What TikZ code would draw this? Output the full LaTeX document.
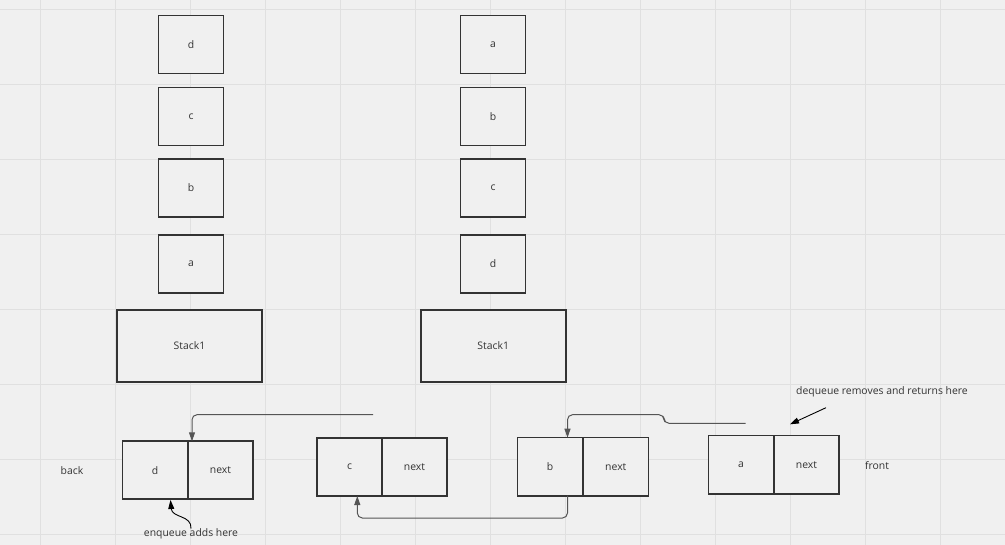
\documentclass[tikz,border=0pt]{standalone}
\usepackage{fontspec}
\setmainfont{Open Sans}
\usetikzlibrary{arrows.meta}
\definecolor{bg}{HTML}{F0F0F0}
\definecolor{gridc}{HTML}{E0E0E0}
\definecolor{ink}{HTML}{333333}
\definecolor{wire}{HTML}{555555}
\tikzset{
  box/.style={draw=ink, line width=1.6pt, fill=bg, inner sep=0pt, text=ink,
    font=\fontsize{10.4}{12}\selectfont, minimum width=65pt, minimum height=58pt},
  bigbox/.style={box, minimum width=145pt, minimum height=72pt},
  lbl/.style={text=ink, inner sep=0pt, font=\fontsize{10.4}{12}\selectfont},
  wirel/.style={draw=wire, line width=1pt, rounded corners=5pt},
  tip/.style={-{Stealth[length=9pt,width=6pt,inset=0pt]}},
}
\begin{document}
\begin{tikzpicture}[x=1pt,y=-1pt]
\useasboundingbox (0,0) rectangle (1005,545);
\fill[bg] (0,0) rectangle (1005,545);
\foreach \i in {0,...,12} \draw[gridc, line width=0.8pt] (40.5+75*\i,0) -- (40.5+75*\i,545);
\foreach \j in {0,...,7} \draw[gridc, line width=0.8pt] (0,9+75*\j) -- (1005,9+75*\j);

% left stack
\node[box] (l1) at (191,44.5) {d};
\node[box] (l2) at (191,116.5) {c};
\node[box] (l3) at (191,188) {b};
\node[box] (l4) at (191,264) {a};
\node[bigbox] (ls) at (189.5,346) {Stack1};
% right stack
\node[box] (r1) at (493,44.5) {a};
\node[box] (r2) at (493,116.5) {b};
\node[box] (r3) at (493,188) {c};
\node[box] (r4) at (493,264) {d};
\node[bigbox] (rs) at (493.2,346) {Stack1};

% linked list
\node[box] (nd) at (155,470.2) {d};
\node[box] (ndn) at (220.5,470.2) {next};
\node[box] (nc) at (349.7,467) {c};
\node[box] (ncn) at (414.5,467) {next};
\node[box] (nb) at (550,466.7) {b};
\node[box] (nbn) at (615.8,466.7) {next};
\node[box] (na) at (741,464.7) {a};
\node[box] (nan) at (806.5,464.7) {next};

\node[lbl] (back) at (72,471) {back};
\node[lbl] (front) at (877,466) {front};
\node[lbl] (enq) at (191,534) {enqueue adds here};
\node[lbl] (deq) at (882,392) {dequeue removes and returns here};

% connectors
\coordinate (cfree) at (373,414.7);
\coordinate (afree) at (745.5,423.3);
\draw[wirel, tip] (cfree) -- (192,414.7) -- (192,441.3);
\draw[wirel, tip] (afree) -| (664,414.7) -- (567.5,414.7) -- (567.5,437.7);
\draw[wirel, tip] (567.5,495.7) -- (567.5,518) -- (357.3,518) -- (357.3,496);

% annotation arrows
\draw[black, line width=0.9pt, tip] (enq.north) .. controls (192,515) and (172,518) .. (170.5,500);
\coordinate (dq) at (826,407.7);
\draw[black, line width=0.9pt, tip] (dq) -- (790,424.3);
\end{tikzpicture}
\end{document}
